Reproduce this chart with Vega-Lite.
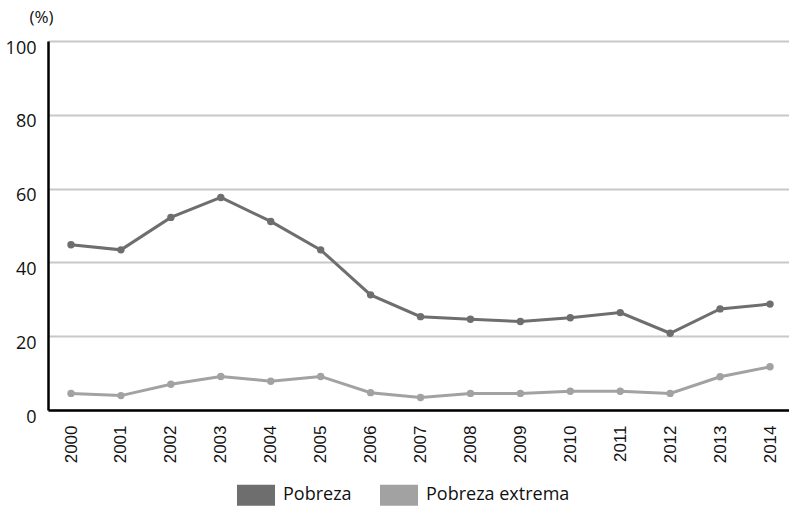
{
  "$schema": "https://vega.github.io/schema/vega-lite/v6.json",
  "width": 741,
  "height": 369,
  "autosize": {"type": "none"},
  "padding": {"left": 48, "top": 41, "right": 0, "bottom": 99},
  "background": "white",
  "config": {
    "view": {"stroke": null},
    "axis": {"domainColor": "#000000", "domainWidth": 2.5, "ticks": false, "tickSize": 0, "labelColor": "#111111"}
  },
  "data": {
    "values": [
      {"year": "2000", "serie": "Pobreza", "value": 44.8},
      {"year": "2001", "serie": "Pobreza", "value": 43.4},
      {"year": "2002", "serie": "Pobreza", "value": 52.2},
      {"year": "2003", "serie": "Pobreza", "value": 57.6},
      {"year": "2004", "serie": "Pobreza", "value": 51.1},
      {"year": "2005", "serie": "Pobreza", "value": 43.4},
      {"year": "2006", "serie": "Pobreza", "value": 31.2},
      {"year": "2007", "serie": "Pobreza", "value": 25.3},
      {"year": "2008", "serie": "Pobreza", "value": 24.6},
      {"year": "2009", "serie": "Pobreza", "value": 24.0},
      {"year": "2010", "serie": "Pobreza", "value": 25.0},
      {"year": "2011", "serie": "Pobreza", "value": 26.4},
      {"year": "2012", "serie": "Pobreza", "value": 20.8},
      {"year": "2013", "serie": "Pobreza", "value": 27.4},
      {"year": "2014", "serie": "Pobreza", "value": 28.7},
      {"year": "2000", "serie": "Pobreza extrema", "value": 4.5},
      {"year": "2001", "serie": "Pobreza extrema", "value": 3.9},
      {"year": "2002", "serie": "Pobreza extrema", "value": 7.0},
      {"year": "2003", "serie": "Pobreza extrema", "value": 9.1},
      {"year": "2004", "serie": "Pobreza extrema", "value": 7.8},
      {"year": "2005", "serie": "Pobreza extrema", "value": 9.1},
      {"year": "2006", "serie": "Pobreza extrema", "value": 4.7},
      {"year": "2007", "serie": "Pobreza extrema", "value": 3.4},
      {"year": "2008", "serie": "Pobreza extrema", "value": 4.5},
      {"year": "2009", "serie": "Pobreza extrema", "value": 4.5},
      {"year": "2010", "serie": "Pobreza extrema", "value": 5.1},
      {"year": "2011", "serie": "Pobreza extrema", "value": 5.1},
      {"year": "2012", "serie": "Pobreza extrema", "value": 4.5},
      {"year": "2013", "serie": "Pobreza extrema", "value": 9.0},
      {"year": "2014", "serie": "Pobreza extrema", "value": 11.7}
    ]
  },
  "encoding": {
    "x": {
      "field": "year",
      "type": "ordinal",
      "scale": {"type": "point", "padding": 0.4206, "align": 0.548},
      "axis": {
        "title": null,
        "labelAngle": -90,
        "labelFont": "Liberation Sans",
        "labelFontSize": 17,
        "labelPadding": 15,
        "grid": false
      }
    },
    "y": {
      "field": "value",
      "type": "quantitative",
      "scale": {"domain": [0, 100], "nice": false},
      "axis": {
        "values": [0, 20, 40, 60, 80, 100],
        "title": "(%)",
        "titleAngle": 0,
        "titleFont": "Open Sans",
        "titleFontSize": 17,
        "titleFontWeight": "normal",
        "titleColor": "#111111",
        "titleAlign": "center",
        "titleBaseline": "middle",
        "titleX": -7,
        "titleY": -24,
        "labelFont": "Open Sans",
        "labelFontSize": 18,
        "labelPadding": 12,
        "labelOffset": 7,
        "grid": true,
        "gridColor": "#c8c8c8",
        "gridWidth": 2
      }
    },
    "color": {
      "field": "serie",
      "type": "nominal",
      "scale": {"domain": ["Pobreza", "Pobreza extrema"], "range": ["#6e6e6e", "#a2a2a2"]},
      "legend": {
        "title": null,
        "orient": "none",
        "direction": "horizontal",
        "legendX": 189,
        "legendY": 435,
        "symbolType": "M-1,-0.55H1V0.55H-1Z",
        "symbolSize": 1444,
        "symbolStrokeWidth": 0,
        "labelFont": "Open Sans",
        "labelFontSize": 18,
        "labelColor": "#111111",
        "labelOffset": 8,
        "columnPadding": 28,
        "encode": {
          "symbols": {"update": {"fill": {"scale": "color", "field": "value"}, "strokeWidth": {"value": 0}, "opacity": {"value": 1}}}
        }
      }
    }
  },
  "layer": [
    {"mark": {"type": "line", "strokeWidth": 3}},
    {"mark": {"type": "point", "filled": true, "size": 55, "opacity": 1}}
  ]
}
